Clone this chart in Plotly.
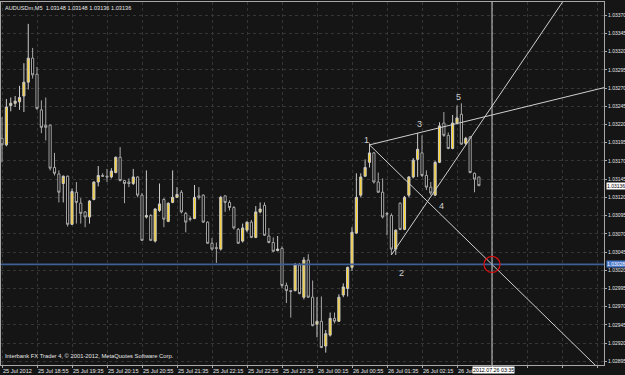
import plotly.graph_objects as go

# ---------------- data ----------------
start_label = "25 Jul 2012"
times = []  # bar times 25 Jul 18:15 -> 26 Jul 03:20, M5
h, m, day = 18, 15, 25
for _ in range(110):
    times.append((day, h, m))
    m += 5
    if m == 60:
        m = 0
        h += 1
        if h == 24:
            h = 0
            day += 1

opens = [1.03201,1.03192,1.03246,1.03249,1.03251,1.03259,1.03278,1.03311,1.03289,1.03240,
         1.03219,1.03219,1.03161,1.03152,1.03139,1.03149,1.03083,1.03127,1.03112,1.03100,
         1.03093,1.03117,1.03141,1.03150,1.03149,1.03148,1.03154,1.03175,1.03143,1.03141,
         1.03139,1.03148,1.03123,1.03093,1.03095,1.03060,1.03102,1.03117,1.03087,1.03113,
         1.03120,1.03127,1.03098,1.03091,1.03091,1.03122,1.03123,1.03086,1.03057,1.03051,
         1.03049,1.03122,1.03113,1.03106,1.03076,1.03060,1.03075,1.03086,1.03065,1.03100,
         1.03109,1.03067,1.03058,1.03047,1.03050,1.02999,1.02992,1.02992,1.03027,1.02983,
         1.03034,1.02983,1.02946,1.02950,1.02916,1.02931,1.02954,1.02950,1.02986,1.02995,
         1.03024,1.03071,1.03123,1.03149,1.03168,1.03181,1.03141,1.03127,1.03098,1.03095,
         1.03049,1.03112,1.03076,1.03123,1.03148,1.03172,1.03181,1.03150,1.03134,1.03123,
         1.03168,1.03222,1.03205,1.03187,1.03222,1.03234,1.03194,1.03203,1.03153,1.03148]
closes = [1.03192,1.03244,1.03249,1.03252,1.03257,1.03278,1.03311,1.03288,1.03242,1.03216,
          1.03216,1.03160,1.03153,1.03127,1.03149,1.03083,1.03128,1.03113,1.03098,1.03093,
          1.03115,1.03141,1.03150,1.03149,1.03148,1.03156,1.03175,1.03143,1.03139,1.03139,
          1.03148,1.03123,1.03061,1.03095,1.03061,1.03104,1.03111,1.03090,1.03112,1.03120,
          1.03124,1.03100,1.03086,1.03090,1.03120,1.03120,1.03086,1.03057,1.03049,1.03050,
          1.03120,1.03113,1.03106,1.03078,1.03057,1.03078,1.03086,1.03065,1.03100,1.03104,
          1.03068,1.03058,1.03046,1.03049,1.02999,1.02992,1.02991,1.03027,1.02988,1.03034,
          1.02983,1.02944,1.02950,1.02914,1.02933,1.02954,1.02950,1.02983,1.02997,1.03024,
          1.03072,1.03120,1.03148,1.03161,1.03181,1.03141,1.03127,1.03093,1.03097,1.03049,
          1.03075,1.03076,1.03120,1.03148,1.03171,1.03186,1.03150,1.03134,1.03126,1.03168,
          1.03218,1.03205,1.03187,1.03222,1.03229,1.03193,1.03201,1.03154,1.03145,1.03136]
highs = [1.03230,1.03255,1.03257,1.03259,1.03273,1.03304,1.03358,1.03325,1.03299,1.03253,
         1.03257,1.03220,1.03181,1.03157,1.03150,1.03150,1.03132,1.03141,1.03119,1.03101,
         1.03116,1.03142,1.03163,1.03153,1.03159,1.03160,1.03176,1.03189,1.03144,1.03146,
         1.03159,1.03149,1.03126,1.03157,1.03097,1.03105,1.03139,1.03119,1.03113,1.03157,
         1.03134,1.03130,1.03100,1.03094,1.03137,1.03134,1.03124,1.03087,1.03064,1.03058,
         1.03122,1.03123,1.03116,1.03108,1.03078,1.03084,1.03087,1.03089,1.03108,1.03113,
         1.03113,1.03078,1.03065,1.03067,1.03053,1.03003,1.02993,1.03030,1.03030,1.03038,
         1.03042,1.03006,1.02983,1.02984,1.02938,1.02962,1.02962,1.02987,1.03002,1.03025,
         1.03079,1.03153,1.03153,1.03172,1.03194,1.03182,1.03154,1.03146,1.03100,1.03098,
         1.03076,1.03113,1.03122,1.03149,1.03174,1.03208,1.03205,1.03157,1.03141,1.03170,
         1.03223,1.03237,1.03209,1.03233,1.03246,1.03249,1.03203,1.03204,1.03154,1.03148]
lows = [1.03168,1.03190,1.03238,1.03244,1.03240,1.03237,1.03268,1.03283,1.03240,1.03208,
        1.03198,1.03157,1.03150,1.03113,1.03113,1.03080,1.03082,1.03084,1.03084,1.03079,
        1.03084,1.03116,1.03135,1.03148,1.03141,1.03146,1.03153,1.03142,1.03112,1.03134,
        1.03137,1.03120,1.03060,1.03091,1.03060,1.03058,1.03100,1.03079,1.03086,1.03112,
        1.03119,1.03098,1.03072,1.03087,1.03090,1.03117,1.03085,1.03056,1.03047,1.03030,
        1.03047,1.03100,1.03102,1.03076,1.03056,1.03058,1.03072,1.03064,1.03064,1.03098,
        1.03067,1.03057,1.03045,1.03046,1.02995,1.02975,1.02955,1.02991,1.02987,1.02980,
        1.02982,1.02943,1.02928,1.02913,1.02907,1.02929,1.02947,1.02949,1.02983,1.02984,
        1.03019,1.03070,1.03120,1.03148,1.03161,1.03139,1.03126,1.03091,1.03068,1.03041,
        1.03041,1.03075,1.03075,1.03120,1.03146,1.03148,1.03148,1.03130,1.03123,1.03122,
        1.03167,1.03203,1.03186,1.03186,1.03220,1.03192,1.03192,1.03153,1.03127,1.03136]

price_ticks = [round(1.02895 + 0.00025 * k, 5) for k in range(20)]
time_tick_bars = [0, 8, 16, 24, 32, 40, 48, 56, 64, 72, 80, 88, 96, 104]
grid_extra_bars = [112, 120, 128, 136]

hline_price = 1.03028      # blue horizontal line
cursor_bar = 112           # 2012.07.26 03:35
cursor_label = "2012.07.26 03:35"
last_price = 1.03136

# trend lines: (bar, price) anchors, drawn as rays
trend_A = [(84, 1.03192), (112, 1.03028)]
trend_B = [(84, 1.03192), (112, 1.03233)]
trend_C = [(89, 1.03041), (112, 1.03245)]
wave_labels = ["1", "2", "3", "4", "5"]
wave_bars = [83.4, 91.2, 95.5, 100.5, 104.3]
wave_prices = [1.03198, 1.03016, 1.03220, 1.03108, 1.03257]

header = "AUDUSDm,M5  1.03148 1.03148 1.03136 1.03136"
footer = "Interbank FX Trader 4, \u00a9 2001-2012, MetaQuotes Software Corp."

# ---------------- figure ----------------
idx = list(range(len(opens)))
months = {25: "25 Jul", 26: "26 Jul"}
ticktext = []
for b in time_tick_bars:
    d, hh, mm = times[b]
    if b == 0:
        ticktext.append(start_label)
    elif b == time_tick_bars[-1]:
        ticktext.append(months[d])  # rest hidden under the cursor time box
    else:
        ticktext.append(f"{months[d]} {hh:02d}:{mm:02d}")
all_xticks = time_tick_bars + grid_extra_bars
all_xtext = ticktext + [""] * len(grid_extra_bars)

BG = "#151515"
GRID = "#363636"
AXIS = "#a8a8a8"
TXT = "#e6e6e6"
FONT = "Liberation Sans"

fig = go.Figure()
fig.add_trace(go.Candlestick(
    x=idx, open=opens, high=highs, low=lows, close=closes,
    increasing=dict(line=dict(color="#c9c9c9", width=1), fillcolor="#ffd21a"),
    decreasing=dict(line=dict(color="#a8a8a8", width=1), fillcolor="#000000"),
    whiskerwidth=0, hoverinfo="skip", showlegend=False,
))

X_END = 145
for (b0, p0), (b1, p1) in (trend_A, trend_B, trend_C):
    slope = (p1 - p0) / (b1 - b0)
    fig.add_trace(go.Scatter(
        x=[b0, X_END], y=[p0, p0 + slope * (X_END - b0)], mode="lines",
        line=dict(color="#cfcfcf", width=1), hoverinfo="skip", showlegend=False))

shapes = [
    dict(type="line", xref="paper", x0=0, x1=1, yref="y", y0=hline_price, y1=hline_price,
         line=dict(color="#3f5f96", width=1.6)),
    dict(type="line", xref="x", x0=cursor_bar, x1=cursor_bar, yref="paper", y0=0, y1=1,
         line=dict(color="#cfcfcf", width=1)),
    dict(type="circle", xref="x", yref="y", xsizemode="pixel", ysizemode="pixel",
         xanchor=cursor_bar, yanchor=hline_price, x0=-8, x1=8, y0=-8, y1=8,
         line=dict(color="#e01010", width=1.2)),
]

annotations = [
    dict(text=header, xref="paper", yref="paper", x=0.003, y=0.997, xanchor="left", yanchor="top",
         showarrow=False, font=dict(family=FONT, size=5.6, color=TXT)),
    dict(text=footer, xref="paper", yref="paper", x=0.003, y=0.012, xanchor="left", yanchor="bottom",
         showarrow=False, font=dict(family=FONT, size=5.8, color=TXT)),
    dict(text=f"{last_price:.5f}", xref="paper", yref="y", x=1.0, y=last_price, xanchor="left",
         yanchor="middle", xshift=2, showarrow=False, bgcolor="#ffffff",
         font=dict(family=FONT, size=5, color="#000000"), borderpad=0),
    dict(text=f"{hline_price:.5f}", xref="paper", yref="y", x=1.0, y=hline_price, xanchor="left",
         yanchor="middle", xshift=2, showarrow=False, bgcolor="#4a78c8",
         font=dict(family=FONT, size=5, color="#ffffff"), borderpad=0),
    dict(text=cursor_label, xref="x", yref="paper", x=cursor_bar, y=0, yanchor="top", xanchor="center",
         xshift=1, yshift=-1, showarrow=False, bgcolor="#ffffff",
         font=dict(family=FONT, size=5.3, color="#000000"), borderpad=0),
]
for t, b, p in zip(wave_labels, wave_bars, wave_prices):
    annotations.append(dict(text=t, x=b, y=p, xref="x", yref="y", showarrow=False,
                            font=dict(family=FONT, size=9, color="#cfcfcf")))

fig.update_layout(
    width=625, height=375,
    margin=dict(l=1, r=21, t=2, b=10),
    paper_bgcolor=BG, plot_bgcolor=BG,
    shapes=shapes, annotations=annotations,
    showlegend=False,
    xaxis=dict(
        range=[-0.23, 137.6], rangeslider=dict(visible=False),
        tickmode="array", tickvals=all_xticks, ticktext=all_xtext,
        ticklabelposition="outside right", tickangle=0,
        ticks="outside", ticklen=2, tickcolor=AXIS,
        showgrid=True, gridcolor=GRID, griddash="dot", gridwidth=1,
        showline=True, linecolor=AXIS, linewidth=1, mirror=True,
        zeroline=False, automargin=False,
        tickfont=dict(family=FONT, size=5.6, color=TXT),
    ),
    yaxis=dict(
        range=[1.02890, 1.03388], side="right",
        tickmode="array", tickvals=price_ticks, ticktext=[f"{v:.5f}" for v in price_ticks],
        ticks="outside", ticklen=2, tickcolor=AXIS,
        showgrid=True, gridcolor=GRID, griddash="dot", gridwidth=1,
        showline=True, linecolor=AXIS, linewidth=1, mirror=True,
        zeroline=False, automargin=False,
        tickfont=dict(family=FONT, size=5, color=TXT),
    ),
)

fig.write_html("out.html")
